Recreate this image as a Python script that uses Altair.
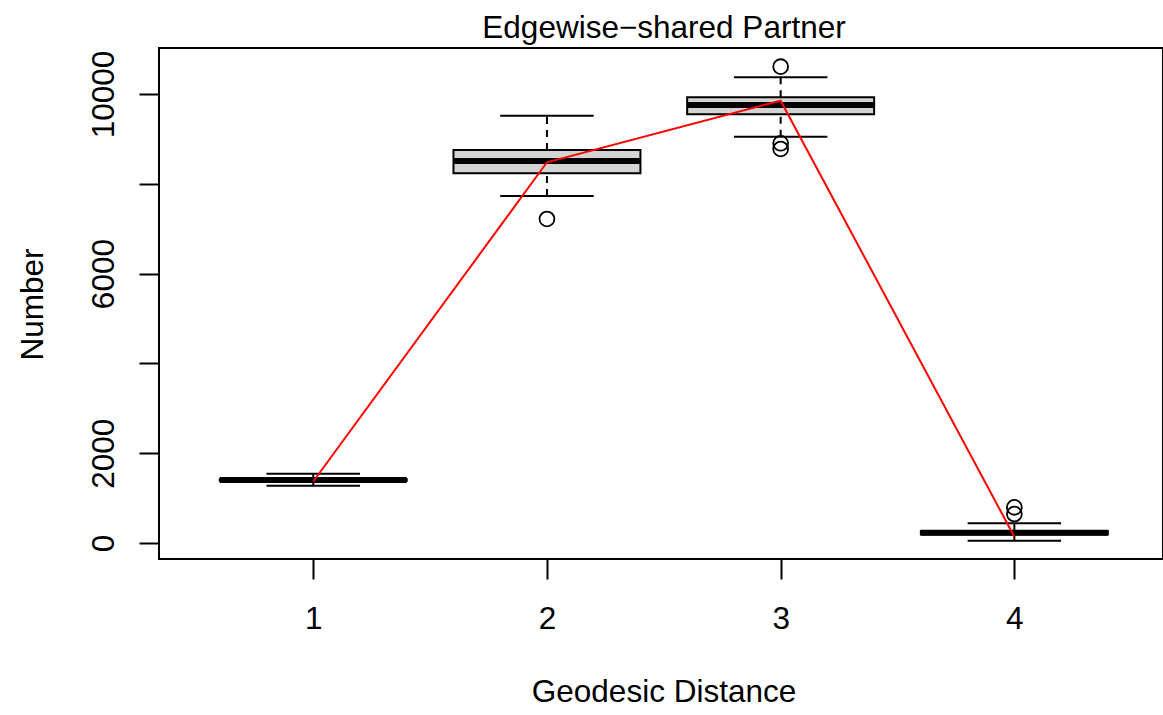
import altair as alt
import pandas as pd

# ---- data ----
distance = [1, 2, 3, 4]
whisker_low = [1276, 7728, 9049, 51]
q1 = [1385, 8234, 9548, 190]
median = [1403, 8508, 9755, 230]
q3 = [1420, 8753, 9927, 265]
whisker_high = [1543, 9517, 10372, 439]

outlier_distance = [2, 3, 3, 3, 4, 4]
outlier_value = [7216, 10608, 8902, 8775, 795, 646]

observed = [1370, 8479, 9851, 140]

x_ticks = [1, 2, 3, 4]
y_ticks = [0, 2000, 4000, 6000, 8000, 10000]

stats = pd.DataFrame({
    "d": distance, "lo": whisker_low, "q1": q1, "med": median,
    "q3": q3, "hi": whisker_high,
})
outl = pd.DataFrame({"d": outlier_distance, "v": outlier_value})
obs = pd.DataFrame({"d": distance, "v": observed})

FONT = "Liberation Sans"
FS = 31.5

xscale = alt.Scale(domain=[0.34, 4.636], nice=False, zero=False)
yscale = alt.Scale(domain=[-356, 11024], nice=False, zero=False)

xaxis = alt.Axis(
    values=x_ticks, title="Geodesic Distance", format="d",
    labelPadding=49, labelBaseline="alphabetic", labelAlign="center",
    titleX=504.5, titleY=142, titleBaseline="alphabetic", titleAlign="center",
)
yaxis = alt.Axis(
    values=y_ticks, format="d",
    labelExpr="datum.value == 4000 || datum.value == 8000 ? '' : datum.label",
    labelAngle=270, labelAlign="center", labelBaseline="alphabetic",
    labelPadding=26, title="Number", titleAngle=270, titleAlign="center",
    titleBaseline="alphabetic", titleX=-117, titleY=256,
)


def X(field):
    return alt.X(field, type="quantitative", scale=xscale, axis=xaxis)


def Y(field):
    return alt.Y(field, type="quantitative", scale=yscale, axis=yaxis)


base = alt.Chart(stats).transform_calculate(
    bl="datum.d - 0.4", br="datum.d + 0.4",
    cl="datum.d - 0.2", cr="datum.d + 0.2",
)

whisk_up = base.mark_rule(color="black", strokeWidth=2, strokeDash=[7, 6]).encode(
    x=X("d"), y=Y("q3"), y2="hi:Q")
whisk_dn = base.mark_rule(color="black", strokeWidth=2, strokeDash=[7, 6]).encode(
    x=X("d"), y=Y("lo"), y2="q1:Q")
cap_hi = base.mark_rule(color="black", strokeWidth=2).encode(
    x=X("cl"), x2="cr:Q", y=Y("hi"))
cap_lo = base.mark_rule(color="black", strokeWidth=2).encode(
    x=X("cl"), x2="cr:Q", y=Y("lo"))
box = base.mark_rect(fill="#D3D3D3", stroke="black", strokeWidth=2).encode(
    x=X("bl"), x2="br:Q", y=Y("q1"), y2="q3:Q")
med = base.mark_rule(color="black", strokeWidth=6).encode(
    x=X("bl"), x2="br:Q", y=Y("med"))

points = alt.Chart(outl).mark_point(
    shape="circle", filled=False, size=220, strokeWidth=1.8, color="black", opacity=1
).encode(x=X("d"), y=Y("v"))

line = alt.Chart(obs).mark_line(color="#FF0000", strokeWidth=2).encode(
    x=X("d"), y=Y("v"))

chart = alt.layer(
    whisk_up, whisk_dn, box, med, cap_hi, cap_lo, points, line
).properties(
    width=1004, height=511,
    autosize=alt.AutoSizeParams(type="none"),
    padding={"left": 159, "top": 48, "right": 0, "bottom": 156},
    title=alt.TitleParams(
        "Edgewise\u2212shared Partner", font=FONT, fontSize=FS,
        fontWeight="normal", color="black", anchor="middle", frame="group",
        baseline="alphabetic", offset=12, dx=3, dy=33,
    ),
).configure_view(
    stroke="black", strokeWidth=2
).configure_axis(
    grid=False, domain=False, tickColor="black", tickWidth=2, tickSize=20,
    labelFont=FONT, labelFontSize=FS, labelColor="black",
    titleFont=FONT, titleFontSize=FS, titleColor="black", titleFontWeight="normal",
)

chart.save("out.html", embed_options={"renderer": "svg", "actions": False})
